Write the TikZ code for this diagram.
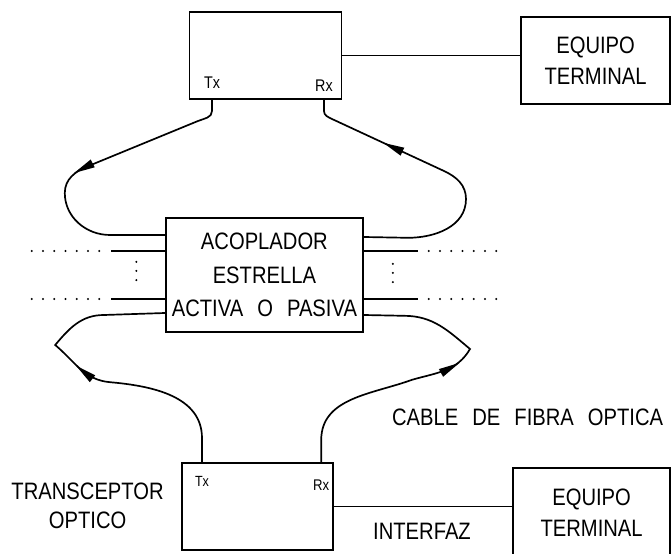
\documentclass[tikz,border=0pt]{standalone}
\usepackage{fontspec}
\setmainfont{Liberation Sans}[FakeStretch=0.85,WordSpace=2.5]
\usetikzlibrary{arrows.meta, positioning, calc, decorations.markings}

\begin{document}
\begin{tikzpicture}[
      x=1cm, y=1cm,
      unit/.style={draw, line width=1.2pt, minimum width=3.8cm, minimum height=2.18cm, inner sep=0pt, align=center, font=\fontsize{16.9}{22}\selectfont},
      coupler/.style={unit, minimum width=4.92cm, minimum height=2.85cm, font=\fontsize{16.9}{23.8}\selectfont},
      port/.style={inner sep=0pt, font=\fontsize{12}{13}\selectfont},
      txt/.style={align=center, font=\fontsize{16.9}{21}\selectfont},
      wire/.style={line width=1.2pt},
      dots/.style={line width=1.6pt, line cap=round, dash pattern=on 0pt off 8pt},
      vdots/.style={line width=1.6pt, line cap=round, dash pattern=on 0pt off 6.5pt},
      fwd/.style={wire, postaction={decorate}, decoration={markings, mark=at position #1 with {\fill (0.22,0) -- (-0.3,0.11) -- (-0.3,-0.11) -- cycle;}}},
      bwd/.style={wire, postaction={decorate}, decoration={markings, mark=at position #1 with {\fill (-0.22,0) -- (0.3,0.11) -- (0.3,-0.11) -- cycle;}}}
    ]
      \useasboundingbox (0,0) rectangle (16.8,13.825);

      % boxes
      \node[unit] (xtop) at (6.64,12.44) {};
      \node[unit, minimum width=3.72cm] (eqtop) at (14.89,12.31) {EQUIPO\\TERMINAL};
      \node[port] (txtop) at (5.3,11.75) {Tx};
      \node[port] (rxtop) at (8.1,11.68) {Rx};
      \node[coupler] (acop) at (6.61,6.95) {ACOPLADOR\\ESTRELLA\\ACTIVA O PASIVA};
      \node[unit, minimum width=3.78cm] (xbot) at (6.44,1.16) {};
      \node[port, font=\fontsize{10.5}{12}\selectfont] (txbot) at (5.05,1.78) {Tx};
      \node[port, font=\fontsize{11}{12}\selectfont] (rxbot) at (8.03,1.7) {Rx};
      \node[unit, minimum width=3.92cm, minimum height=2.25cm] (eqbot) at (14.79,1.0) {EQUIPO\\TERMINAL};

      % texts
      \node[txt] (trans) at (2.19,1.18) {TRANSCEPTOR\\OPTICO};
      \node[txt] (cable) at (13.19,3.38) {CABLE DE FIBRA OPTICA};
      \node[txt] (inter) at (10.55,0.53) {INTERFAZ};

      % interfaces
      \draw[wire] (xtop.east) -- (xtop.east -| eqtop.west);
      \draw[wire] (xbot.east) -- (xbot.east -| eqbot.west);

      % fibre cables
      \draw[fwd=0.5] (xtop.south -| txtop) -- ++(0,-0.28) to[out=-90,in=22] (4.95,10.8) -- (2.2,9.67)
        to[out=202,in=90] (1.62,9.0) to[out=-90,in=180] (2.75,7.95) -- ($(acop.west)+(0,1.0)$);
      \draw[bwd=0.29] (xtop.south -| rxtop) -- ++(0,-0.28) to[out=-90,in=155] (8.3,10.85) -- (11.1,9.55)
        to[out=-25,in=90] (11.65,8.85) to[out=-90,in=0] (10.2,7.88) -- ($(acop.east)+(0,0.95)$);
      \draw[fwd=0.52] (xbot.north -| txbot) -- ++(0,0.6) to[out=90,in=-5] (2.75,4.27)
        to[out=175,in=-40] (1.38,5.2) to[out=50,in=180] (2.6,5.95) -- ($(acop.west)+(0,-0.95)$);
      \draw[fwd=0.56] (xbot.north -| rxbot) -- ++(0,0.55) to[out=90,in=200] (10.3,4.33)
        to[out=16,in=-120] (11.75,5.1) to[out=140,in=0] (10.1,5.93) -- ($(acop.east)+(0,-1.0)$);

      % other ports of the star
      \draw[wire] ($(acop.west)+(0,0.6)$) -- ++(-1.35,0);
      \draw[wire] ($(acop.west)+(0,-0.6)$) -- ++(-1.35,0);
      \draw[wire] ($(acop.east)+(0,0.6)$) -- ++(1.35,0);
      \draw[wire] ($(acop.east)+(0,-0.6)$) -- ++(1.35,0);
      \draw[dots] ($(acop.west)+(-1.65,0.6)$) -- ++(-1.7,0);
      \draw[dots] ($(acop.west)+(-1.65,-0.6)$) -- ++(-1.7,0);
      \draw[dots] ($(acop.east)+(1.63,0.6)$) -- ++(1.7,0);
      \draw[dots] ($(acop.east)+(1.63,-0.6)$) -- ++(1.7,0);
      \draw[vdots] ($(acop.west)+(-0.72,0.33)$) -- ++(0,-0.465);
      \draw[vdots] ($(acop.east)+(0.73,0.28)$) -- ++(0,-0.465);
    \end{tikzpicture}
\end{document}
